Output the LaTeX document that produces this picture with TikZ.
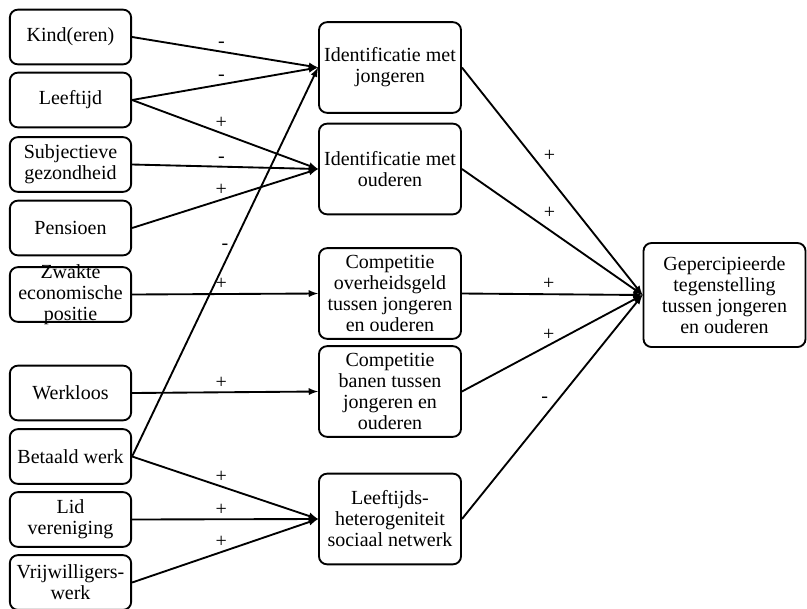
\documentclass[tikz,border=0pt]{standalone}
\usepackage{fontspec}
\setmainfont{Liberation Serif}
\begin{document}
\begin{tikzpicture}[
x=0.75pt, y=-0.75pt,
font=\fontsize{15}{15.75}\selectfont,
line width=1.4pt
]

\tikzstyle{lb} = [draw, rounded corners=6pt, align=center, minimum width=91pt, minimum height=41pt, inner sep=1pt]
\tikzstyle{mb} = [draw, rounded corners=6pt, align=center, minimum width=106.5pt, minimum height=68pt, inner sep=1pt]
\tikzstyle{eb} = [draw, rounded corners=6pt, align=center, minimum width=121.5pt, minimum height=78pt, inner sep=1pt]
\tikzstyle{pijl} = [-latex]
\tikzstyle{tk} = [inner sep=2.5pt]

\useasboundingbox (0,0) rectangle (807,608);

% verklarende variabelen
\node[lb] (kind) at (70.5,37) {Kind(eren)};
\node[lb] (leef) at (70.5,100) {Leeftijd};
\node[lb] (subj) at (70.5,164.5) {Subjectieve\\gezondheid};
\node[lb] (pens) at (70.5,228) {Pensioen};
\node[lb] (zwak) at (70.5,294.5) {};
\node[align=center] (zwakt) at (zwak) {Zwakte\\economische\\positie};
\node[lb] (wklo) at (70.5,393) {Werkloos};
\node[lb] (betw) at (70.5,456.5) {Betaald werk};
\node[lb] (lid) at (70.5,519.5) {Lid\\vereniging};
\node[lb] (vrij) at (70.5,582.5) {Vrijwilligers-\\werk};

% tussenliggende variabelen
\node[mb] (idj) at (390,67.5) {Identificatie met\\jongeren};
\node[mb] (ido) at (390,169) {Identificatie met\\ouderen};
\node[mb] (cog) at (390,293.5) {Competitie\\overheidsgeld\\tussen jongeren\\en ouderen};
\node[mb] (cob) at (390,391.5) {Competitie\\banen tussen\\jongeren en\\ouderen};
\node[mb] (het) at (390,519) {Leeftijds-\\heterogeniteit\\sociaal netwerk};

% afhankelijke variabele
\node[eb] (geg) at (724.5,295) {Gepercipieerde\\tegenstelling\\tussen jongeren\\en ouderen};

\draw[pijl] (kind.east) -- node[tk, pos=0.48, above] {-} (idj.west);
\draw[pijl] (leef.east) -- node[tk, pos=0.48, above] {-} (idj.west);
\draw[pijl] (leef.east) -- node[tk, pos=0.48, above] {+} (ido.west);
\draw[pijl] (subj.east) -- node[tk, pos=0.48, above] {-} (ido.west);
\draw[pijl] (pens.east) -- node[tk, pos=0.48, above] {+} (ido.west);
\draw[pijl] (betw.east) -- node[tk, pos=0.54, left] {-} (idj.west);
\draw[pijl] (zwak.east) -- node[tk, pos=0.48, above] {+} (cog.west);
\draw[pijl] (wklo.east) -- node[tk, pos=0.48, above] {+} (cob.west);
\draw[pijl] (betw.east) -- node[tk, pos=0.48, above] {+} (het.west);
\draw[pijl] (lid.east) -- node[tk, pos=0.48, above] {+} (het.west);
\draw[pijl] (vrij.east) -- node[tk, pos=0.48, above] {+} (het.west);

\draw[pijl] (idj.east) -- node[tk, pos=0.43, above right] {+} (geg.west);
\draw[pijl] (ido.east) -- node[tk, pos=0.43, above right] {+} (geg.west);
\draw[pijl] (cog.east) -- node[tk, pos=0.48, above] {+} (geg.west);
\draw[pijl] (cob.east) -- node[tk, pos=0.48, above] {+} (geg.west);
\draw[pijl] (het.east) -- node[tk, pos=0.5, above left] {-} (geg.west);
\end{tikzpicture}
\end{document}
